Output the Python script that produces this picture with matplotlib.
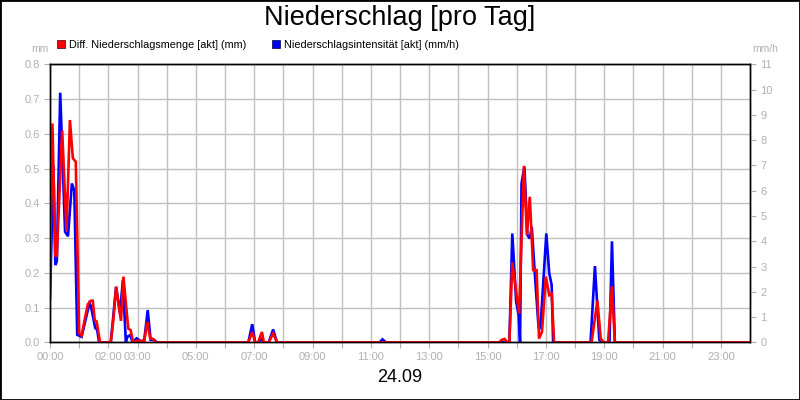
"""Niederschlag [pro Tag] - Tagesgang von Niederschlagsmenge und -intensität."""
import matplotlib
matplotlib.use("Agg")
import matplotlib.pyplot as plt
from matplotlib.patches import Patch, Rectangle

plt.rcParams['font.family'] = ['Liberation Sans', 'DejaVu Sans']

# Diff. Niederschlagsmenge [akt] (mm), Zeit in Minuten nach Mitternacht
menge_t = [0, 5, 11, 14, 25, 34, 41, 47, 53, 60, 65, 72, 78, 84, 88, 92, 96, 103,
           125, 130, 136, 146, 151, 161, 166, 171, 180, 194, 200, 206, 212, 217,
           408, 416, 422, 428, 436, 440, 450, 459, 467,
           924, 929, 935, 941, 945, 951, 965, 975, 981, 987, 994, 1001, 1006, 1012,
           1020, 1027, 1032, 1037,
           1114, 1126, 1133, 1140, 1148, 1156, 1162, 1440]
menge = [0.19, 0.63, 0.25, 0.25, 0.61, 0.32, 0.64, 0.53, 0.52, 0.027, 0.02, 0.07,
         0.11, 0.12, 0.12, 0.064, 0.06, 0.0,
         0, 0.06, 0.16, 0.062, 0.189, 0.04, 0.035, 0, 0.005, 0.005, 0.059, 0.012, 0.01, 0,
         0, 0.03, 0, 0, 0.03, 0, 0, 0.026, 0,
         0, 0.007, 0.01, 0, 0, 0.23, 0.083, 0.508, 0.309, 0.419, 0.208, 0.208, 0.011, 0.03,
         0.189, 0.136, 0.14, 0,
         0, 0.12, 0.01, 0, 0, 0.162, 0, 0]

# Niederschlagsintensität [akt] (mm/h)
intens_t = [0, 7, 11, 14, 21, 31, 37, 45, 50, 56, 65, 81, 84, 93, 97, 101,
            125, 136, 144, 150, 156, 159, 165, 170, 178, 183, 187, 194, 201, 207, 214, 220,
            408, 416, 422, 428, 436, 440, 450, 459, 467,
            678, 684, 691,
            945, 951, 959, 964, 967, 970, 976, 982, 987, 991, 998, 1005, 1009, 1021,
            1027, 1032, 1035,
            1112, 1121, 1130, 1137, 1151, 1156, 1162, 1440]
intens = [1.75, 7.0, 3.06, 3.2, 9.88, 4.38, 4.2, 6.29, 6.0, 0.3, 0.22, 1.54, 1.45,
          0.57, 0.5, 0,
          0, 2.2, 1.15, 2.47, 0, 0.22, 0.29, 0, 0.16, 0.1, 0, 0.1, 1.28, 0.1, 0.1, 0,
          0, 0.72, 0, 0, 0.13, 0, 0, 0.51, 0,
          0, 0.12, 0,
          0, 4.31, 1.61, 1.08, 0, 6.29, 6.95, 4.25, 4.11, 4.57, 2.53, 0.62, 0.58, 4.31,
          2.73, 2.27, 0,
          0, 3.02, 0.1, 0, 0, 4.0, 0, 0]

labelled_hours = ['00:00', '02:00', '03:00', '05:00', '07:00', '09:00', '11:00',
                  '13:00', '15:00', '17:00', '19:00', '21:00', '23:00']
left_ticks = [0.0, 0.1, 0.2, 0.3, 0.4, 0.5, 0.6, 0.7, 0.8]
right_ticks = list(range(12))

grey = '#b0b0b0'

fig = plt.figure(figsize=(8, 4), dpi=100)
ax = fig.add_axes([0.0625, 0.144, 0.875, 0.695])
ax2 = ax.twinx()

ax.set_xlim(0, 1440)
ax.set_ylim(0, 0.8)
ax2.set_ylim(0, 11)

hours = list(range(24))
names = [f'{h:02d}:00' for h in hours]
ax.set_xticks([h * 60 for h in hours])
ax.set_xticklabels([n if n in labelled_hours else '' for n in names])
ax.set_yticks(left_ticks)
ax.set_yticklabels([f'{v:.1f}' for v in left_ticks])
ax2.set_yticks(right_ticks)

ax.grid(True, color='#c0c0c0', lw=1.0)
ax.set_axisbelow(True)

for a in (ax, ax2):
    a.tick_params(colors=grey, labelcolor=grey, labelsize=8, length=4, width=0.8)
    for s in a.spines.values():
        s.set_color('black')
        s.set_linewidth(1.0)
ax.tick_params(axis='x', pad=3)

# blue first, then red on top (through the left axis' own transform)
ax2.plot(intens_t, intens, color='#0000ff', lw=1.9, solid_joinstyle='miter')
ax2.plot(menge_t, menge, color='#ff0000', lw=1.9, transform=ax.transData,
         solid_joinstyle='miter')
ax2.set_ylim(0, 11)
ax2.set_xlim(0, 1440)

fig.text(40 / 800, 1 - 49 / 400, 'mm', color=grey, fontsize=7.5, ha='center', va='center')
fig.text(765 / 800, 1 - 49 / 400, 'mm/h', color=grey, fontsize=7.5, ha='center', va='center')

handles = [Patch(facecolor='#ff0000', edgecolor='#400000', lw=0.5,
                 label='Diff. Niederschlagsmenge [akt] (mm)'),
           Patch(facecolor='#0000ff', edgecolor='#000040', lw=0.5,
                 label='Niederschlagsintensität [akt] (mm/h)')]
fig.legend(handles=handles, loc='center left', bbox_to_anchor=(57 / 800, 1 - 45 / 400),
           ncol=2, frameon=False, fontsize=7.8, handlelength=0.75, handleheight=0.75,
           handletextpad=0.4, columnspacing=2.3, borderpad=0, borderaxespad=0)

fig.text(0.5, 1 - 18 / 400, 'Niederschlag [pro Tag]', fontsize=19.5, ha='center', va='center')
fig.text(0.5, 1 - 378 / 400, '24.09', fontsize=13, ha='center', va='center')

fig.patches.append(Rectangle((0, 0), 1, 1, transform=fig.transFigure, fill=False,
                             ec='black', lw=2))

fig.savefig('out.png', dpi=100)
